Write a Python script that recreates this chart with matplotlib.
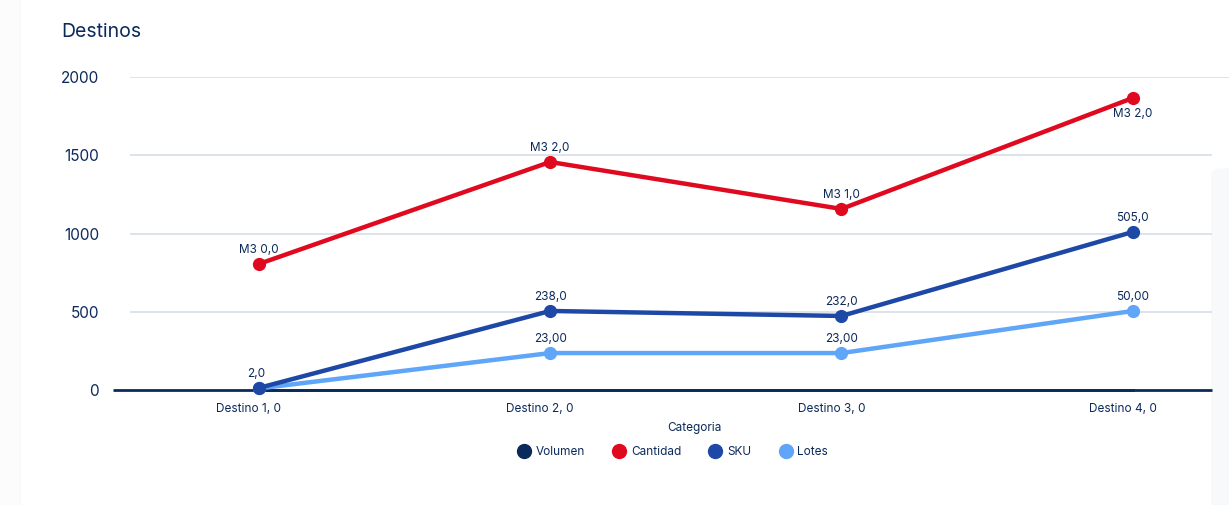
import matplotlib.pyplot as plt
from matplotlib.patches import FancyBboxPatch
from matplotlib.lines import Line2D

plt.rcParams['font.family'] = ['Inter', 'DejaVu Sans']

# datos
categorias = ["Destino 1, 0", "Destino 2, 0", "Destino 3, 0", "Destino 4, 0"]
volumen = [0, 0, 0, 0]
cantidad = [805, 1457, 1157, 1866]
sku = [13, 505, 473, 1010]
lotes = [10, 236, 236, 505]
etiquetas_cantidad = ["M3 0,0", "M3 2,0", "M3 1,0", "M3 2,0"]
etiquetas_sku = ["2,0", "238,0", "232,0", "505,0"]
etiquetas_lotes = ["", "23,00", "23,00", "50,00"]
yticks = [0, 500, 1000, 1500, 2000]

navy = '#0b2a5b'
rojo = '#df0a1f'
azul = '#1e48a6'
celeste = '#5fa5f8'
gris = '#d6dee8'

fig = plt.figure(figsize=(12.29, 5.05), dpi=100)
fig.patch.set_facecolor('#fcfcfd')

# tarjeta blanca
fig.patches.append(FancyBboxPatch((20 / 1229, -0.1), 1.0, 1.2,
                                  boxstyle="round,pad=0,rounding_size=0.02",
                                  transform=fig.transFigure, facecolor='white',
                                  edgecolor='#f4f5f7', lw=0.8, zorder=-2))
# panel gris de fondo a la derecha
fig.patches.append(FancyBboxPatch((1211 / 1229, -0.05), 0.05, (505 - 168) / 505 + 0.05,
                                  boxstyle="round,pad=0,rounding_size=0.012",
                                  transform=fig.transFigure, facecolor='#f8f9fb',
                                  edgecolor='none', zorder=-1))

ax = fig.add_axes([113 / 1229, (505 - 390) / 505, 1 - 113 / 1229, (390 - 77) / 505])
ax.set_facecolor('none')
x = list(range(len(categorias)))
ax.set_xlim(-0.5, 3.33)
ax.set_ylim(0, 2000)

# grid
for yt in yticks[1:]:
    right = 3.33 if yt == 2000 else 3.27
    ax.hlines(yt, -0.44, right, color=gris, lw=1.2, zorder=1)

ax.plot(x, volumen, color=navy, lw=2, zorder=2, clip_on=False)
ax.hlines(0, -0.5, 3.27, color=navy, lw=2, zorder=2, clip_on=False)

ax.plot(x, lotes, color=celeste, lw=3.2, marker='o', ms=8.5, clip_on=False, zorder=3)
ax.plot(x, sku, color=azul, lw=3.2, marker='o', ms=8.5, clip_on=False, zorder=4)
ax.plot(x, cantidad, color=rojo, lw=3.2, marker='o', ms=8.5, clip_on=False, zorder=5)

# etiquetas
for i in x:
    if i == 3:
        ax.annotate(etiquetas_cantidad[i], (i, cantidad[i]), xytext=(0, -7), textcoords='offset points',
                    ha='center', va='top', fontsize=8.5, color=navy)
    else:
        ax.annotate(etiquetas_cantidad[i], (i, cantidad[i]), xytext=(0, 6), textcoords='offset points',
                    ha='center', va='bottom', fontsize=8.5, color=navy)
    ax.annotate(etiquetas_sku[i], (i, sku[i]), xytext=(-2 if i == 0 else 0, 6), textcoords='offset points',
                ha='center', va='bottom', fontsize=8.5, color=navy)
    if etiquetas_lotes[i]:
        ax.annotate(etiquetas_lotes[i], (i, lotes[i]), xytext=(0, 6), textcoords='offset points',
                    ha='center', va='bottom', fontsize=8.5, color=navy)

for s in ax.spines.values():
    s.set_visible(False)
ax.set_yticks(yticks)
ax.set_yticklabels([str(v) for v in yticks], fontsize=11, color=navy)
ax.tick_params(axis='y', length=0, pad=10)
ax.set_xticks([v - 0.035 for v in x])
ax.set_xticklabels(categorias, fontsize=8.5, color=navy)
ax.tick_params(axis='x', length=0, pad=9)

fig.text(61 / 1229, 1 - 32 / 505, "Destinos", fontsize=14, color=navy, va='center', ha='left')
fig.text(694 / 1229, 1 - 428 / 505, "Categoria", fontsize=8.5, color=navy, va='center', ha='center')

handles = [Line2D([], [], ls='none', marker='o', ms=10, color=c) for c in (navy, rojo, azul, celeste)]
fig.legend(handles, ["Volumen", "Cantidad", "SKU", "Lotes"], loc='center', ncol=4,
           bbox_to_anchor=(673 / 1229, 1 - 452 / 505), frameon=False, fontsize=8.5,
           labelcolor=navy, handletextpad=0.5, columnspacing=2.4, handlelength=1.0)

fig.savefig('out.png', dpi=100)
